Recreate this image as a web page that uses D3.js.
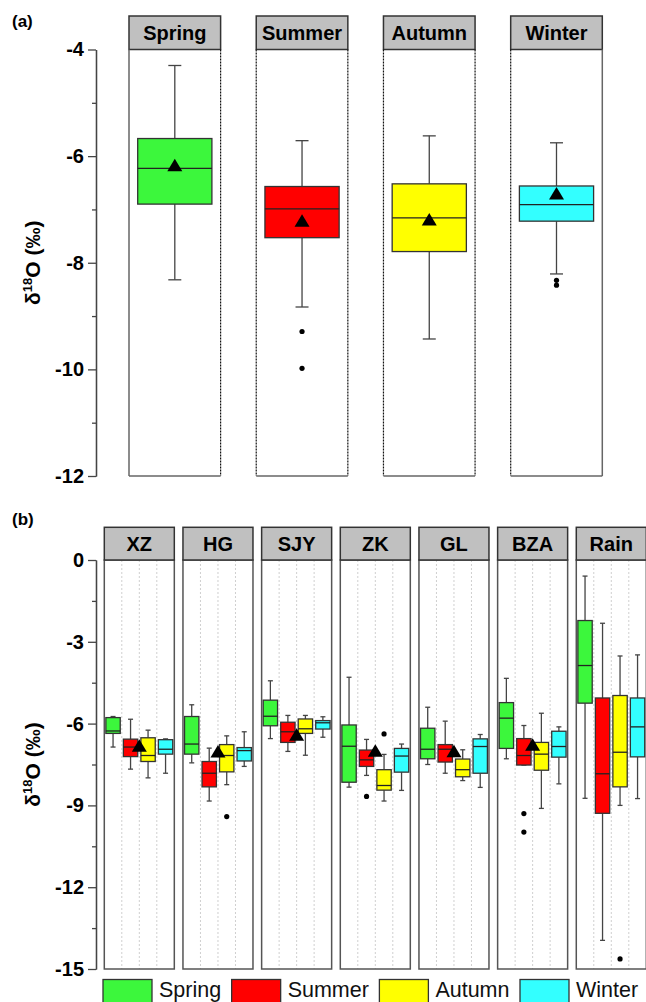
<!DOCTYPE html>
<html lang="en">
<head>
<meta charset="UTF-8">
<title>Seasonal d18O box plots</title>
<script src="https://d3js.org/d3.v7.min.js"></script>
<style>
  body { margin: 0; background: #fff; }
  svg { display: block; font-family: Arial, "Liberation Sans", sans-serif; }
</style>
</head>
<body>
<svg width="646" height="1002"></svg>
<script>
// seasons and colours
const seasons = ["Spring", "Summer", "Autumn", "Winter"];
const seasonColors = ["#3cf73c", "#ff0000", "#ffff00", "#33ffff"];

// panel (a): all sites by season
const aLow = [-8.32, -8.83, -9.43, -8.21];
const aQ1 = [-6.90, -7.53, -7.79, -7.22];
const aMedian = [-6.23, -6.99, -7.16, -6.91];
const aQ3 = [-5.67, -6.57, -6.52, -6.56];
const aHigh = [-4.30, -5.71, -5.62, -5.75];
const aMean = [-6.17, -7.21, -7.19, -6.70];
const aOutliers = [[], [-9.29, -9.98], [], [-8.33, -8.42]];
const aTicks = [-12, -10, -8, -6, -4];

// panel (b): each site, values per season (Spring, Summer, Autumn, Winter)
const sites = ["XZ", "HG", "SJY", "ZK", "GL", "BZA", "Rain"];
const bLow = [
  [-6.86, -7.67, -7.99, -7.82],
  [-7.44, -8.84, -8.24, -7.57],
  [-6.55, -7.02, -7.16, -6.50],
  [-8.33, -7.90, -8.84, -8.45],
  [-7.50, -7.82, -8.09, -8.34],
  [-7.29, -7.52, -9.11, -8.21],
  [-8.74, -13.95, -9.00, -8.75]
];
const bQ1 = [
  [-6.36, -7.21, -7.39, -7.12],
  [-7.12, -8.32, -7.77, -7.37],
  [-6.08, -6.69, -6.36, -6.20],
  [-8.15, -7.57, -8.44, -7.78],
  [-7.29, -7.41, -7.95, -7.82],
  [-6.91, -7.52, -7.71, -7.23],
  [-5.25, -9.29, -8.32, -7.22]
];
const bMedian = [
  [-6.27, -6.86, -7.17, -6.94],
  [-6.75, -7.82, -7.17, -6.99],
  [-5.73, -6.30, -6.19, -5.97],
  [-6.83, -7.33, -8.27, -7.19],
  [-6.94, -6.94, -7.69, -6.84],
  [-5.80, -7.17, -7.12, -6.84],
  [-3.87, -7.84, -7.05, -6.12]
];
const bQ3 = [
  [-5.78, -6.57, -6.52, -6.59],
  [-5.74, -7.39, -6.77, -6.88],
  [-5.14, -5.95, -5.83, -5.89],
  [-6.05, -6.97, -7.69, -6.91],
  [-6.17, -6.77, -7.30, -6.56],
  [-5.23, -6.55, -6.69, -6.28],
  [-2.22, -5.06, -4.97, -5.06]
];
const bHigh = [
  [-5.74, -5.84, -6.24, -6.56],
  [-5.31, -6.90, -6.45, -6.30],
  [-4.43, -5.70, -5.70, -5.75],
  [-4.30, -6.58, -7.13, -6.75],
  [-5.40, -5.91, -6.96, -6.40],
  [-4.34, -6.07, -5.62, -6.12],
  [-0.59, -2.32, -3.52, -3.48]
];
const bOutliers = [
  [[], [], [], []],
  [[], [], [-9.41], []],
  [[], [], [], []],
  [[], [-8.67], [-6.38], []],
  [[], [], [], []],
  [[], [-9.30, -9.98], [], []],
  [[], [], [-14.63], []]
];
const bMean = [-6.81, -7.02, -6.41, -7.00, -7.01, -6.78, null];
const bTicks = [-15, -12, -9, -6, -3, 0];

const svg = d3.select("svg");

function drawBox(g, cx, w, capW, lo, q1, med, q3, hi, outs, color, y) {
  g.append("line")
    .attr("x1", cx).attr("x2", cx).attr("y1", y(hi)).attr("y2", y(q3))
    .attr("stroke", "#444").attr("stroke-width", 1.3);
  g.append("line")
    .attr("x1", cx).attr("x2", cx).attr("y1", y(q1)).attr("y2", y(lo))
    .attr("stroke", "#444").attr("stroke-width", 1.3);
  [hi, lo].forEach(v => {
    g.append("line")
      .attr("x1", cx - capW / 2).attr("x2", cx + capW / 2)
      .attr("y1", y(v)).attr("y2", y(v))
      .attr("stroke", "#444").attr("stroke-width", 1.3);
  });
  g.append("rect")
    .attr("x", cx - w / 2).attr("width", w)
    .attr("y", y(q3)).attr("height", y(q1) - y(q3))
    .attr("fill", color).attr("stroke", "#333").attr("stroke-width", 1.3);
  g.append("line")
    .attr("x1", cx - w / 2).attr("x2", cx + w / 2)
    .attr("y1", y(med)).attr("y2", y(med))
    .attr("stroke", "#222").attr("stroke-width", 1.3);
  outs.forEach(v => {
    g.append("circle").attr("cx", cx).attr("cy", y(v)).attr("r", 2.6).attr("fill", "#000");
  });
}

function drawMean(g, cx, cy) {
  g.append("path")
    .attr("d", `M${cx - 7.5},${cy + 6}L${cx + 7.5},${cy + 6}L${cx},${cy - 6.5}Z`)
    .attr("fill", "#000");
}

function drawYAxis(g, y, ticks, minor, x, labelX) {
  g.append("g")
    .attr("transform", `translate(${x},0)`)
    .call(d3.axisLeft(y).tickValues(minor).tickSize(4).tickSizeOuter(0).tickFormat(""))
    .call(a => a.selectAll("line,path").attr("stroke", "#444").attr("stroke-width", 1.3));
  const ax = g.append("g")
    .attr("transform", `translate(${x},0)`)
    .call(d3.axisLeft(y).tickValues(ticks).tickSize(8).tickSizeOuter(0).tickPadding(4)
      .tickFormat(d => String(d)));
  ax.selectAll("line,path").attr("stroke", "#444").attr("stroke-width", 1.3);
  ax.selectAll("text")
    .attr("font-size", 20).attr("font-weight", "bold").attr("fill", "#000")
    .attr("font-family", "Arial, 'Liberation Sans', sans-serif");
  const [y0, y1] = y.range();
  const t = g.append("text")
    .attr("transform", `translate(${labelX},${(y0 + y1) / 2}) rotate(-90)`)
    .attr("text-anchor", "middle")
    .attr("font-size", 21).attr("font-weight", "bold");
  t.append("tspan").text("\u03B4");
  t.append("tspan").attr("font-size", 13).attr("dy", -8).text("18");
  t.append("tspan").attr("dy", 8).text("O (\u2030)");
}

// ---------- panel (a)
const yA = d3.scaleLinear().domain([-12, -4]).range([476, 49.5]);
const xA = d3.scaleBand().domain(seasons).range([129, 602.3]).paddingInner(0.28);
const gA = svg.append("g");

svg.append("text").attr("x", 12).attr("y", 27)
  .attr("font-size", 17).attr("font-weight", "bold").text("(a)");

drawYAxis(gA, yA, aTicks, d3.range(-11, -4, 2), 96, 40);

seasons.forEach((s, i) => {
  const x0 = xA(s), bw = xA.bandwidth();
  const top = yA(-4), bot = yA(-12);
  gA.append("rect").attr("x", x0).attr("y", 16).attr("width", bw).attr("height", top - 16)
    .attr("fill", "#c0c0c0").attr("stroke", "#333").attr("stroke-width", 1.5);
  gA.append("text").attr("x", x0 + bw / 2).attr("y", (16 + top) / 2 + 7.5)
    .attr("text-anchor", "middle").attr("font-size", 20).attr("font-weight", "bold").text(s);
  // frame sides: outer ones solid, inner ones dashed
  const leftSolid = i === 0, rightSolid = i === seasons.length - 1;
  gA.append("line").attr("x1", x0).attr("x2", x0).attr("y1", top).attr("y2", bot)
    .attr("stroke", leftSolid ? "#666" : "#111").attr("stroke-width", leftSolid ? 1.5 : 1.2)
    .attr("stroke-dasharray", leftSolid ? null : "2,1");
  gA.append("line").attr("x1", x0 + bw).attr("x2", x0 + bw).attr("y1", top).attr("y2", bot)
    .attr("stroke", rightSolid ? "#666" : "#111").attr("stroke-width", rightSolid ? 1.5 : 1.2)
    .attr("stroke-dasharray", rightSolid ? null : "2,1");
  gA.append("line").attr("x1", x0).attr("x2", x0 + bw).attr("y1", bot).attr("y2", bot)
    .attr("stroke", "#666").attr("stroke-width", 1.5);

  const cx = x0 + bw / 2;
  drawBox(gA, cx, bw * 0.81, 13, aLow[i], aQ1[i], aMedian[i], aQ3[i], aHigh[i],
    aOutliers[i], seasonColors[i], yA);
  drawMean(gA, cx, yA(aMean[i]));
});

// ---------- panel (b)
const yB = d3.scaleLinear().domain([-15, 0]).range([969, 560]);
const xB = d3.scaleBand().domain(sites).range([104.3, 646.3]).paddingInner(0.11);
const inner = d3.scaleBand().domain(seasons).range([0, xB.bandwidth()]);
const gB = svg.append("g");

svg.append("text").attr("x", 12).attr("y", 525)
  .attr("font-size", 17).attr("font-weight", "bold").text("(b)");

drawYAxis(gB, yB, bTicks, d3.range(-13.5, 0, 3), 96, 40);

sites.forEach((site, j) => {
  const x0 = xB(site), bw = xB.bandwidth();
  const top = yB(0), bot = yB(-15);
  const g = gB.append("g");
  // dotted separators between seasons
  seasons.slice(1).forEach(s => {
    g.append("line").attr("x1", x0 + inner(s)).attr("x2", x0 + inner(s))
      .attr("y1", top).attr("y2", bot)
      .attr("stroke", "#cfcfcf").attr("stroke-width", 1).attr("stroke-dasharray", "2,2");
  });
  g.append("rect").attr("x", x0).attr("y", top).attr("width", bw).attr("height", bot - top)
    .attr("fill", "none").attr("stroke", "#555").attr("stroke-width", 1.5);
  g.append("rect").attr("x", x0).attr("y", 527.3).attr("width", bw).attr("height", top - 527.3)
    .attr("fill", "#c0c0c0").attr("stroke", "#333").attr("stroke-width", 1.5);
  g.append("text").attr("x", x0 + bw / 2).attr("y", (527.3 + top) / 2 + 7.5)
    .attr("text-anchor", "middle").attr("font-size", 20).attr("font-weight", "bold").text(site);

  seasons.forEach((s, i) => {
    const cx = x0 + inner(s) + inner.bandwidth() / 2;
    drawBox(g, cx, inner.bandwidth() * 0.82, 5, bLow[j][i], bQ1[j][i], bMedian[j][i],
      bQ3[j][i], bHigh[j][i], bOutliers[j][i], seasonColors[i], yB);
  });
  if (bMean[j] !== null) drawMean(g, x0 + bw / 2, yB(bMean[j]));
});

// ---------- legend
const leg = svg.append("g");
let lx = 103;
seasons.forEach((s, i) => {
  leg.append("rect").attr("x", lx).attr("y", 979.5).attr("width", 49).attr("height", 30)
    .attr("fill", seasonColors[i]).attr("stroke", "#333").attr("stroke-width", 1.3);
  const t = leg.append("text").attr("x", lx + 56).attr("y", 997)
    .attr("font-size", 21.5).attr("fill", "#111").text(s);
  lx += 56 + t.node().getComputedTextLength() + 10.5;
});
</script>
</body>
</html>
